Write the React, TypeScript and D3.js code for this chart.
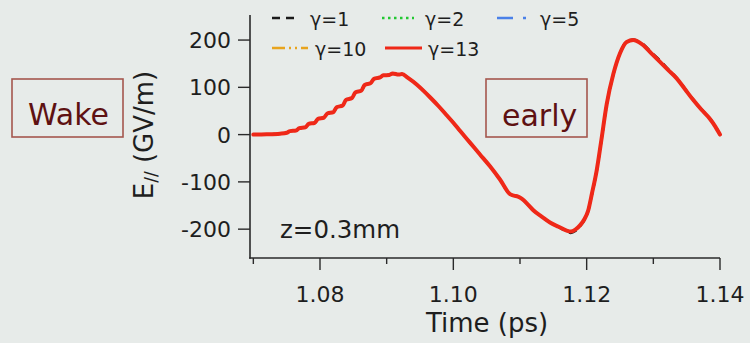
import React from "react";
import * as d3 from "d3";

const W = 750;
const H = 343;

// Time axis (ps)
const time = [
  1.07, 1.072, 1.074, 1.075, 1.0755, 1.0764, 1.0769, 1.0778, 1.0783, 1.0792,
  1.0797, 1.0806, 1.0811, 1.082, 1.0825, 1.0834, 1.0839, 1.0848, 1.0853, 1.0862,
  1.0867, 1.0876, 1.0881, 1.089, 1.0895, 1.0904, 1.0909, 1.0918, 1.0923, 1.0932,
  1.0945, 1.0955, 1.0965, 1.0978, 1.099, 1.1, 1.101, 1.1025, 1.104, 1.1055,
  1.107, 1.1085, 1.1091, 1.1097, 1.1103, 1.1112, 1.112, 1.1133, 1.1145, 1.1158,
  1.117, 1.1176, 1.1183, 1.119, 1.1197, 1.1202, 1.1208, 1.1215, 1.1222, 1.123,
  1.124, 1.125, 1.126, 1.127, 1.1278, 1.1285, 1.1297, 1.131, 1.1322, 1.1335,
  1.1347, 1.136, 1.1372, 1.1385, 1.1393, 1.14,
];

// E// (GV/m) for gamma = 13 (and nearly identical gamma = 2, 5, 10)
const gamma13 = [
  0, 0.5, 2, 4, 7.4, 8.5, 13.8, 15.5, 22.6, 25,
  33.2, 36, 44.6, 47.5, 58, 61.5, 73.5, 77.5, 89, 93,
  105, 109, 118, 121, 125.5, 126, 129.5, 127, 128, 120,
  106, 93, 79, 60, 41, 25, 8, -17, -42, -67,
  -95, -126, -129, -131, -136, -148, -160, -174, -186, -195,
  -203, -205, -201, -192, -178, -162, -124, -76, -12, 64,
  128, 172, 196, 200, 196, 189, 172, 154, 137, 119,
  97, 73, 53, 33, 17, 0,
];
const gamma10 = gamma13;
const gamma5 = gamma13;
const gamma2 = gamma13;
// gamma = 1 differs slightly near the minimum and on the falling edge after the peak
const gamma1 = [
  0, 0.5, 2, 4, 7.4, 8.5, 13.8, 15.5, 22.6, 25,
  33.2, 36, 44.6, 47.5, 58, 61.5, 73.5, 77.5, 89, 93,
  105, 109, 118, 121, 125.5, 126, 129.5, 127, 128, 120,
  106, 93, 79, 60, 41, 25, 8, -17, -42, -67,
  -95, -126, -129, -131, -136, -148, -160, -174, -186, -196,
  -205, -208, -204, -194, -180, -163, -126, -78, -14, 62,
  127, 172, 197, 201, 197, 191, 174, 157, 139, 120,
  98, 74, 54, 34, 18, 0,
];

const seriesNames = ["γ=1", "γ=2", "γ=5", "γ=10", "γ=13"];
const seriesValues = [gamma1, gamma2, gamma5, gamma10, gamma13];

const yTicks = [-200, -100, 0, 100, 200];
const xMajorTicks = [1.08, 1.1, 1.12, 1.14];
const xMinorTicks = [1.07, 1.09, 1.11, 1.13];

const styles = [
  { color: "#1a1a1a", width: 2.5, dash: "8 6" },
  { color: "#22c832", width: 2.5, dash: "2.5 3.5" },
  { color: "#4a80e8", width: 2.5, dash: "16 10 3 10" },
  { color: "#e8a41e", width: 2.5, dash: "13 4 2 4 2 4" },
  { color: "#ef2818", width: 4, dash: null as string | null },
];

const legendPos = [
  { x: 272, y: 18, tx: 310, ty: 26 },
  { x: 382, y: 18, tx: 425, ty: 26 },
  { x: 497, y: 18, tx: 540, ty: 26 },
  { x: 272, y: 48, tx: 315, ty: 56 },
  { x: 385, y: 48, tx: 428, ty: 56 },
];
const legendLen = [28, 32, 33, 36, 37];

export default function App() {
  const x = d3.scaleLinear().domain([1.0695, 1.14]).range([250, 720]);
  const y = d3.scaleLinear().domain([-261, 253]).range([258, 15]);

  const line = d3
    .line<number>()
    .x((_, i) => x(time[i]))
    .y((d) => y(d))
    .curve(d3.curveMonotoneX);

  const font = "'DejaVu Sans', sans-serif";
  const axisColor = "#2a2a2a";
  const textColor = "#1e1e1e";

  return (
    <svg
      width={W}
      height={H}
      style={{ position: "absolute", left: 0, top: 0 }}
      fontFamily={font}
    >
      <rect x={0} y={0} width={W} height={H} fill="#e7ebe9" />

      {/* Wake / early boxes */}
      <rect x={12} y={79} width={111} height={58} fill="none" stroke="#a5574e" strokeWidth={1.6} />
      <text x={28} y={125} fontSize={30} fill="#5e1112">Wake</text>
      <rect x={486} y={79} width={101} height={58} fill="none" stroke="#a5574e" strokeWidth={1.6} />
      <text x={502} y={126} fontSize={30} fill="#5e1112">early</text>

      {/* axes */}
      <line x1={250} y1={15} x2={250} y2={258.8} stroke={axisColor} strokeWidth={1.6} />
      <line x1={249.2} y1={258} x2={720} y2={258} stroke={axisColor} strokeWidth={1.6} />
      {yTicks.map((t) => (
        <g key={"y" + t}>
          <line x1={238} x2={250} y1={y(t)} y2={y(t)} stroke={axisColor} strokeWidth={1.4} />
          <text x={231} y={y(t) + 8} fontSize={22} textAnchor="end" fill={textColor}>
            {t}
          </text>
        </g>
      ))}
      {xMajorTicks.map((t) => (
        <g key={"x" + t}>
          <line x1={x(t)} x2={x(t)} y1={258} y2={270} stroke={axisColor} strokeWidth={1.4} />
          <text x={x(t)} y={302} fontSize={22} textAnchor="middle" fill={textColor}>
            {t.toFixed(2)}
          </text>
        </g>
      ))}
      {xMinorTicks.map((t) => (
        <line key={"m" + t} x1={x(t)} x2={x(t)} y1={258} y2={264} stroke={axisColor} strokeWidth={1.4} />
      ))}

      {/* axis labels */}
      <text x={487} y={332} fontSize={26} textAnchor="middle" fill={textColor}>
        Time (ps)
      </text>
      <text
        transform="translate(153,135) rotate(-90)"
        fontSize={26}
        textAnchor="middle"
        fill={textColor}
      >
        E
        <tspan fontSize={17} dy={4}>//</tspan>
        <tspan dy={-4}> (GV/m)</tspan>
      </text>

      <text x={280} y={238} fontSize={24.5} fill={textColor}>z=0.3mm</text>

      {/* curves */}
      {seriesValues.map((vals, i) => (
        <path
          key={"s" + i}
          d={line(vals) || ""}
          fill="none"
          stroke={styles[i].color}
          strokeWidth={styles[i].width}
          strokeDasharray={styles[i].dash || undefined}
          strokeLinejoin="round"
          strokeLinecap={i === 4 ? "round" : "butt"}
        />
      ))}

      {/* legend */}
      {seriesNames.map((n, i) => (
        <g key={"l" + i}>
          <line
            x1={legendPos[i].x}
            x2={legendPos[i].x + legendLen[i]}
            y1={legendPos[i].y}
            y2={legendPos[i].y}
            stroke={styles[i].color}
            strokeWidth={i === 4 ? 3 : 2.5}
            strokeDasharray={styles[i].dash || undefined}
          />
          <text x={legendPos[i].tx} y={legendPos[i].ty} fontSize={19} fill={textColor}>
            {n}
          </text>
        </g>
      ))}
    </svg>
  );
}
